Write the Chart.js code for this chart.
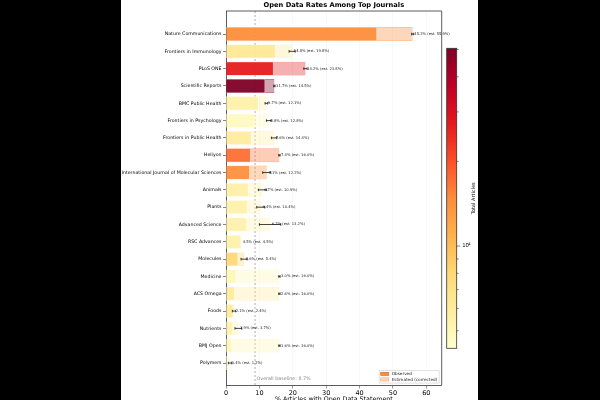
<!DOCTYPE html>
<html><head><meta charset="utf-8">
<script src="https://cdn.jsdelivr.net/npm/chart.js@4.4.1/dist/chart.umd.min.js"></script>
<style>
html,body{margin:0;padding:0;background:#000;width:600px;height:400px;overflow:hidden}
#fig{position:absolute;left:121px;top:0;width:357px;height:400px;background:#fff}
canvas{display:block}
</style></head><body>
<div id="fig"><canvas id="c" width="357" height="400"></canvas></div>
<script>
const journals = ["Nature Communications","Frontiers in Immunology","PLoS ONE","Scientific Reports","BMC Public Health","Frontiers in Psychology","Frontiers in Public Health","Heliyon","International Journal of Molecular Sciences","Animals","Plants","Advanced Science","RSC Advances","Molecules","Medicine","ACS Omega","Foods","Nutrients","BMJ Open","Polymers"];
const observed = [45.2,14.8,14.2,11.7,9.7,8.8,7.6,7.4,7.1,6.7,6.4,6.2,4.5,3.6,3.0,2.6,2.1,1.9,1.6,0.4];
const estimated = [55.9,19.8,23.8,14.5,12.1,12.8,14.4,16.0,12.2,10.9,10.4,13.2,4.5,5.4,16.0,16.0,2.4,3.7,16.0,1.2];
const estError = [0.3,0.9,0.5,0.2,0.4,0.7,0.8,0.2,1.2,1.2,1.2,3.2,0.0,0.9,0.2,0.2,0.5,1.0,0.2,0.5];
const totalArticles = [14800,6350,26700,50500,5500,4710,5880,17100,14300,5600,5500,5380,5400,8000,5000,5950,6000,5500,5100,4330];
const baseline = 8.7;
const xTicks = [0,10,20,30,40,50,60];

const STOPS = [[255,255,204],[255,237,160],[254,217,118],[254,178,76],[253,141,60],[252,78,42],[227,26,28],[189,0,38],[128,0,38]];
function cmap(t){
  t = Math.max(0, Math.min(1, t));
  const p = t*8, i = Math.min(7, Math.floor(p)), f = p - i;
  const a = STOPS[i], b = STOPS[i+1];
  return [0,1,2].map(k => Math.round(a[k] + (b[k]-a[k])*f));
}
const vmin = Math.min(...totalArticles), vmax = Math.max(...totalArticles);
const lmin = Math.log10(vmin), lmax = Math.log10(vmax);
const normT = v => (Math.log10(v) - lmin)/(lmax - lmin);
const rgba = (c,a) => `rgba(${c[0]},${c[1]},${c[2]},${a})`;
const baseColors = totalArticles.map(v => cmap(normT(v)));

const FONT = 'DejaVu Sans';

const extras = {
  id: 'extras',
  beforeDatasetsDraw(chart){
    const {ctx, chartArea:a, scales:{x}} = chart;
    ctx.save();
    ctx.strokeStyle = 'rgba(128,128,128,0.8)';
    ctx.lineWidth = 0.8;
    ctx.setLineDash([2,2]);
    const bx = x.getPixelForValue(baseline);
    ctx.beginPath(); ctx.moveTo(bx, a.top); ctx.lineTo(bx, a.bottom); ctx.stroke();
    ctx.restore();
  },
  afterDatasetsDraw(chart){
    const {ctx, chartArea:a, scales:{x,y}} = chart;
    ctx.save();
    ctx.strokeStyle = '#111'; ctx.lineWidth = 0.8;
    estimated.forEach((e,i) => {
      const py = y.getPixelForValue(i);
      const x0 = x.getPixelForValue(e - estError[i]), x1 = x.getPixelForValue(e + estError[i]);
      if (estError[i] > 0) {
        ctx.beginPath(); ctx.moveTo(x0, py); ctx.lineTo(x1, py);
        ctx.moveTo(x0, py-1.3); ctx.lineTo(x0, py+1.3);
        ctx.moveTo(x1, py-1.3); ctx.lineTo(x1, py+1.3);
        ctx.stroke();
      }
    });
    ctx.fillStyle = '#222';
    ctx.font = `3.7px "${FONT}"`;
    ctx.textBaseline = 'middle'; ctx.textAlign = 'left';
    estimated.forEach((e,i) => {
      ctx.fillText(`${observed[i].toFixed(1)}% (est. ${e.toFixed(1)}%)`, x.getPixelForValue(e + 0.5), y.getPixelForValue(i));
    });
    ctx.fillStyle = '#8a8a8a';
    ctx.font = `4.8px "${FONT}"`;
    ctx.fillText(`Overall baseline: ${baseline}%`, x.getPixelForValue(baseline) + 1.5, a.bottom - 6.5);
    ctx.strokeStyle = '#333'; ctx.lineWidth = 0.8;
    ctx.beginPath(); ctx.moveTo(a.left, a.top); ctx.lineTo(a.right, a.top); ctx.lineTo(a.right, a.bottom); ctx.stroke();
    const lx = a.right - 62.5, ly = a.bottom - 14.5, lw = 60, lh = 12.6;
    ctx.fillStyle = 'rgba(255,255,255,0.85)';
    ctx.strokeStyle = '#ccc'; ctx.lineWidth = 0.6;
    ctx.beginPath(); ctx.rect(lx, ly, lw, lh); ctx.fill(); ctx.stroke();
    const legC = cmap(0.5);
    ctx.fillStyle = rgba(legC, 1); ctx.strokeStyle = '#d96a1c';
    ctx.fillRect(lx+1.5, ly+1.8, 8, 3.2); ctx.strokeRect(lx+1.5, ly+1.8, 8, 3.2);
    ctx.fillStyle = rgba(legC, 0.35); ctx.strokeStyle = 'rgba(253,141,60,0.7)';
    ctx.fillRect(lx+1.5, ly+7.3, 8, 3.2); ctx.strokeRect(lx+1.5, ly+7.3, 8, 3.2);
    ctx.fillStyle = '#222'; ctx.font = `4.2px "${FONT}"`;
    ctx.fillText('Observed', lx+12.5, ly+3.5);
    ctx.fillText('Estimated (corrected)', lx+12.5, ly+9);
    ctx.restore();
  },
  afterDraw(chart){
    const {ctx, chartArea:a} = chart;
    ctx.save();
    ctx.fillStyle = '#000'; ctx.textAlign = 'center'; ctx.textBaseline = 'middle';
    ctx.font = `bold 6.7px "${FONT}"`;
    ctx.fillText('Open Data Rates Among Top Journals', (a.left + a.right)/2, 5.5);
    ctx.font = `6.3px "${FONT}"`;
    ctx.fillText('% Articles with Open Data Statement', (a.left + a.right)/2, 399.5);
    const cx = 325.7, cw = 10, ct = 48.3, cb = 348.3;
    const g = ctx.createLinearGradient(0, cb, 0, ct);
    STOPS.forEach((s,i) => g.addColorStop(i/8, rgba(s,1)));
    ctx.fillStyle = g; ctx.fillRect(cx, ct, cw, cb-ct);
    ctx.strokeStyle = '#333'; ctx.lineWidth = 0.8; ctx.strokeRect(cx, ct, cw, cb-ct);
    const py = v => cb - (Math.log10(v) - lmin)/(lmax - lmin)*(cb-ct);
    ctx.lineWidth = 0.6;
    for (let k = Math.floor(lmin); k <= Math.ceil(lmax); k++) {
      for (let m = 1; m < 10; m++) {
        const v = m*Math.pow(10,k);
        if (v < vmin || v > vmax) continue;
        const yy = py(v), len = m === 1 ? 3.5 : 2;
        ctx.beginPath(); ctx.moveTo(cx+cw, yy); ctx.lineTo(cx+cw+len, yy); ctx.stroke();
        if (m === 1) {
          ctx.textAlign = 'left'; ctx.font = `5.3px "${FONT}"`; ctx.fillStyle = '#000';
          ctx.fillText('10', cx+cw+5.5, yy);
          ctx.font = `3.6px "${FONT}"`;
          ctx.fillText(String(k), cx+cw+11.5, yy-2);
        }
      }
    }
    ctx.save();
    ctx.translate(352.3, (ct+cb)/2); ctx.rotate(-Math.PI/2);
    ctx.textAlign = 'center'; ctx.font = `5px "${FONT}"`; ctx.fillStyle = '#000';
    ctx.fillText('Total Articles', 0, 0);
    ctx.restore();
    ctx.restore();
  }
};

const obsData = observed.map((v,i) => ({x: v, y: i}));
const estData = estimated.map((v,i) => ({x: v, y: i}));

new Chart(document.getElementById('c'), {
  type: 'bar',
  data: {
    datasets: [
      { label: 'Observed', data: obsData, order: 0, grouped: false,
        backgroundColor: baseColors.map(c => rgba(c, 0.92)),
        borderColor: 'rgba(255,255,255,0.9)', borderWidth: 0.5,
        barPercentage: 0.8, categoryPercentage: 1 },
      { label: 'Estimated (corrected)', data: estData, order: 1, grouped: false,
        backgroundColor: baseColors.map(c => rgba(c, 0.35)),
        borderColor: baseColors.map(c => rgba(c, 0.6)), borderWidth: 0.6,
        barPercentage: 0.8, categoryPercentage: 1 }
    ]
  },
  options: {
    indexAxis: 'y',
    responsive: false, devicePixelRatio: 1, animation: false,
    layout: { padding: { top: 11, right: 36.3, bottom: 0, left: 0 } },
    plugins: { legend: { display: false }, tooltip: { enabled: false } },
    scales: {
      x: {
        type: 'linear', min: 0, max: 64.6,
        afterBuildTicks: s => { s.ticks = xTicks.map(v => ({value: v})); },
        afterFit: s => { s.height = 15; },
        grid: { color: 'rgba(0,0,0,0.06)', tickColor: '#333', tickLength: 3.5, lineWidth: 0.5 },
        border: { color: '#333', width: 0.8 },
        ticks: { font: { family: FONT, size: 6.5 }, color: '#000', padding: 0.5, maxRotation: 0 }
      },
      y: {
        type: 'linear', min: -1.33, max: 20.27, reverse: true, offset: false,
        afterBuildTicks: s => { s.ticks = journals.map((j,i) => ({value: i})); },
        afterFit: s => { s.width = 105; },
        grid: { display: true, drawOnChartArea: false, offset: false, tickColor: '#333', tickLength: 3, lineWidth: 0.6 },
        border: { color: '#333', width: 0.8 },
        ticks: { font: { family: FONT, size: 4.7 }, color: '#000', padding: 1.5, autoSkip: false,
          callback: v => journals[v] ?? '' }
      }
    }
  },
  plugins: [extras]
});
</script>
</body></html>
